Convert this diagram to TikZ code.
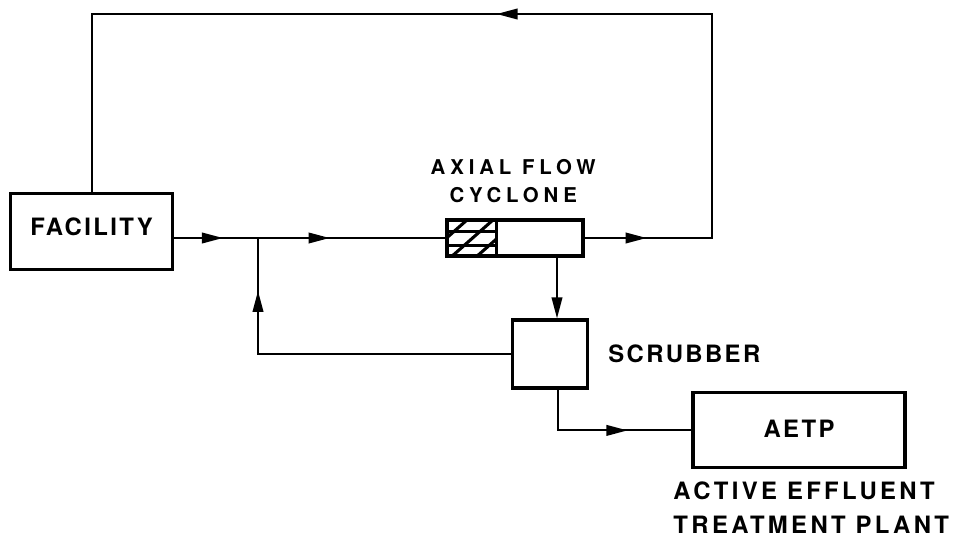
\documentclass[tikz,border=0pt]{standalone}
\usepackage{fontspec}
\usepackage{tikz}
\usetikzlibrary{arrows.meta,positioning,calc,decorations.markings}
\newfontfamily\tagfont[LetterSpace=10]{TeX Gyre Heros}
\newfontfamily\widetagfont[LetterSpace=24]{TeX Gyre Heros}
\newfontfamily\plantfont[LetterSpace=14]{TeX Gyre Heros}
\definecolor{ink}{RGB}{0,0,0}
\tikzset{
  unitbox/.style={rectangle, draw=ink, line width=2.2pt, fill=white,
                  inner sep=0pt, font=\tagfont\bfseries\fontsize{17}{21}\selectfont},
  pipe/.style={draw=ink, line width=1.5pt},
  tipend/.style={pipe, -{Triangle[length=15pt,width=7.5pt]}},
  flowarrow/.style={postaction={decorate, decoration={markings,
                    mark=at position #1 with {\arrow{Triangle[length=15pt,width=7.5pt]}}}}},
  hatch/.style={draw=ink, line width=2.2pt},
  lbl/.style={font=\tagfont\bfseries\fontsize{17}{21}\selectfont, inner sep=0pt},
}
\begin{document}
\begin{tikzpicture}
  \useasboundingbox (0,0) rectangle (24.1,-13.675);
  % process units
  \node[unitbox, minimum width=4.05cm, minimum height=1.9cm, text depth=0.27cm] (facility) at (2.29,-5.79) {FACILITY};
  \node[unitbox, minimum width=3.4cm, minimum height=0.9cm] (cyc) at (12.875,-5.95) {};
  \node[unitbox, minimum width=1.875cm, minimum height=1.7cm] (scrub) at (13.76,-8.85) {};
  \node[unitbox, minimum width=5.3cm, minimum height=1.875cm, text depth=0.1cm] (aetp) at (19.975,-10.76) {AETP};
  % swirl vanes of the cyclone
  \begin{scope}
    \clip (cyc.south west) rectangle ([xshift=12.75mm]cyc.north west);
    \foreach \dx in {-0.525,0.125,0.75}
      \draw[hatch] ([xshift=\dx cm]cyc.south west) -- ++(1.2,1.06);
    \draw[hatch] ([yshift=3mm]cyc.south west) -- ++(1.3,0);
    \draw[hatch] ([yshift=6.5mm]cyc.south west) -- ++(1.3,0);
  \end{scope}
  \draw[hatch] ([xshift=12.75mm]cyc.south west) -- ([xshift=12.75mm]cyc.north west);
  % labels
  \node[lbl, align=center, font=\widetagfont\bfseries\fontsize{14.5}{20}\selectfont] (cyclbl) at (12.83,-4.53) {AXIAL FLOW\\CYCLONE};
  \node[lbl, anchor=west] (scrublbl) at (15.2,-8.85) {SCRUBBER};
  \node[lbl, anchor=west, align=left, font=\plantfont\bfseries\fontsize{17}{24}\selectfont] (aetplbl) at (16.83,-12.7) {ACTIVE EFFLUENT\\TREATMENT PLANT};
  % flow lines
  \coordinate (j) at (6.45,-5.95);
  \coordinate (tr) at (17.8,-0.35);
  \draw[pipe, flowarrow=0.18, flowarrow=0.573] (facility.east |- cyc.west) -- (cyc.west);
  \draw[pipe, flowarrow=0.054, flowarrow=0.493] (cyc.east) -| (tr) -| (facility.north);
  \draw[pipe, flowarrow=0.857] (scrub.west) -| (j);
  \draw[tipend] ([xshift=10.5mm]cyc.south) -- ([xshift=10.5mm]cyc.south |- scrub.north);
  \draw[pipe, flowarrow=0.633] ([xshift=1.9mm]scrub.south) |- (aetp.west);
\end{tikzpicture}
\end{document}
